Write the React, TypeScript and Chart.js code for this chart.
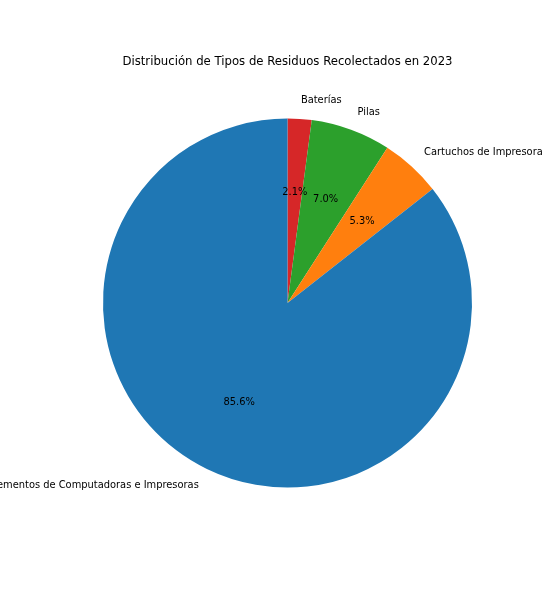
import { useEffect, useRef } from "react"
import { Chart, registerables } from "chart.js"

Chart.register(...registerables)

// order is clockwise from the top, as the reference draws it
const labels = ["Baterías", "Pilas", "Cartuchos de Impresora", "Elementos de Computadoras e Impresoras"]
const shares = [2.1, 7.0, 5.3, 85.6]
const colors = ["#d62728", "#2ca02c", "#ff7f0e", "#1f77b4"]
const title = "Distribución de Tipos de Residuos Recolectados en 2023"

const FONT = '"DejaVu Sans", sans-serif'

// draws outside labels, inside percentages and the title, like matplotlib's pie
const pieText = {
  id: "pieText",
  afterDraw(chart: any) {
    const ctx = chart.ctx
    const meta = chart.getDatasetMeta(0)
    const total = shares.reduce((a, b) => a + b, 0)
    ctx.save()
    ctx.fillStyle = "#000"
    ctx.textBaseline = "middle"
    meta.data.forEach((arc: any, i: number) => {
      const { x, y, startAngle, endAngle, outerRadius } = arc.getProps(
        ["x", "y", "startAngle", "endAngle", "outerRadius"],
        true
      )
      const mid = (startAngle + endAngle) / 2
      const c = Math.cos(mid)
      const s = Math.sin(mid)

      ctx.font = `9.9px ${FONT}`
      ctx.textAlign = c >= 0 ? "left" : "right"
      ctx.fillText(labels[i], x + c * outerRadius * 1.1, y + s * outerRadius * 1.1)

      ctx.textAlign = "center"
      const pct = ((shares[i] / total) * 100).toFixed(1) + "%"
      ctx.fillText(pct, x + c * outerRadius * 0.6, y + s * outerRadius * 0.6)
    })

    ctx.font = `11.7px ${FONT}`
    ctx.textAlign = "center"
    ctx.textBaseline = "middle"
    const area = chart.chartArea
    ctx.fillText(title, (area.left + area.right) / 2, 62)
    ctx.restore()
  },
}

export default function App() {
  const chartRef = useRef<HTMLCanvasElement>(null)
  const chartInstance = useRef<Chart | null>(null)

  useEffect(() => {
    if (!chartRef.current) return
    if (chartInstance.current) chartInstance.current.destroy()

    const ctx = chartRef.current.getContext("2d")
    if (ctx) {
      chartInstance.current = new Chart(ctx, {
        type: "pie",
        data: {
          labels,
          datasets: [
            {
              data: shares,
              backgroundColor: colors,
              borderWidth: 0,
            },
          ],
        },
        options: {
          responsive: false,
          animation: false,
          layout: {
            padding: { left: 103, right: 88, top: 118, bottom: 112 },
          },
          plugins: {
            legend: { display: false },
            tooltip: { enabled: false },
            title: { display: false },
          },
        },
        plugins: [pieText],
      })
    }

    return () => {
      if (chartInstance.current) {
        chartInstance.current.destroy()
        chartInstance.current = null
      }
    }
  }, [])

  return (
    <div style={{ position: "absolute", left: 0, top: 0, width: 560, height: 600, background: "#fff" }}>
      <canvas ref={chartRef} width={560} height={600} />
    </div>
  )
}
